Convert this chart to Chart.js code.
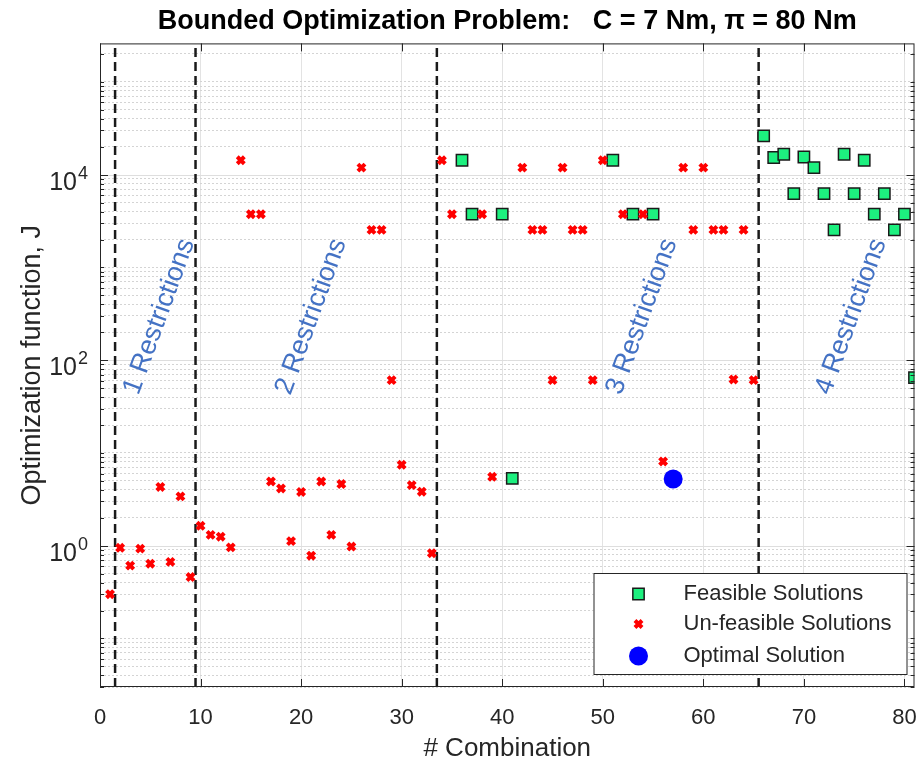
<!DOCTYPE html>
<html>
<head>
<meta charset="utf-8">
<script src="https://cdn.jsdelivr.net/npm/chart.js@4.4.1/dist/chart.umd.min.js"></script>
<style>
    html, body { margin: 0; padding: 0; background: #fff; }
</style>
</head>
<body>
<canvas id="grafico" width="924" height="764"></canvas>
<script>
// datos
const combFactibles = [36, 37, 40, 41, 51, 53, 55, 66, 67, 68, 69, 70, 71, 72, 73, 74, 75, 76, 77, 78, 79, 80, 81];
const valFactibles = [14300, 3750, 3750, 5.31, 14300, 3750, 3750, 26200, 15300, 16600, 6260, 15500, 11900, 6260, 2540, 16600, 6260, 14300, 3750, 6260, 2540, 3750, 65];

const combNoFactibles = [1, 2, 3, 4, 5, 6, 7, 8, 9, 10, 11, 12, 13, 14, 15, 16, 17, 18, 19, 20, 21, 22, 23, 24, 25,
    26, 27, 28, 29, 30, 31, 32, 33, 34, 35, 38, 39, 42, 43, 44, 45, 46, 47, 48, 49, 50, 52, 54, 56, 58, 59, 60, 61, 62, 63, 64, 65];
const valNoFactibles = [0.30, 0.95, 0.61, 0.93, 0.64, 4.3, 0.67, 3.4, 0.46, 1.64, 1.31, 1.25, 0.96, 14300, 3750, 3750, 4.93, 4.14, 1.12, 3.8, 0.78, 4.93, 1.31, 4.62, 0.98,
    11900, 2540, 2540, 61, 7.46, 4.5, 3.82, 0.83, 14300, 3750, 3750, 5.54, 11900, 2540, 2540, 61, 11900, 2540, 2540, 61, 14300, 3750, 3750, 8.1, 11900, 2540, 11900, 2540, 2540, 62, 2540, 61];

const combOptima = [57];
const valOptima = [5.23];

const limitesRestricciones = [1.5, 9.5, 33.5, 65.5];
const etiquetasRegion = ['1 Restrictions', '2 Restrictions', '3 Restrictions', '4 Restrictions'];
const centroRegionX = [5.9, 21.0, 53.9, 74.7];
const centroRegionY = 295;

const ticksX = [0, 10, 20, 30, 40, 50, 60, 70, 80];
const ticksYMayores = [1, 100, 10000];
const Y_MIN = 0.03, Y_MAX = 2.6e5;

const FUENTE = "'Liberation Sans', Arial, sans-serif";
const GRIS_TEXTO = '#262626';

function ticksLog() {
    const lista = [];
    for (let k = -2; k <= 5; k++) {
        for (let m = 1; m <= 9; m++) {
            const v = m * Math.pow(10, k);
            if (v >= Y_MIN && v <= Y_MAX) lista.push({ value: v });
        }
    }
    return lista;
}

function esMayor(v) {
    return ticksYMayores.some(t => Math.abs(v - t) / t < 1e-6);
}

const puntos = (xs, ys) => xs.map((x, i) => ({ x: x, y: ys[i] }));

const lineasLimite = limitesRestricciones.map(b => ({
    type: 'line',
    data: [{ x: b, y: Y_MIN }, { x: b, y: Y_MAX }],
    borderColor: '#1a1a1a',
    borderWidth: 2.5,
    borderDash: [9, 5],
    pointRadius: 0,
    showLine: true,
    fill: false,
    order: 4
}));

const seriesLeyenda = [
    { texto: 'Feasible Solutions', estilo: { pointStyle: 'rect', radius: 8, rotation: 0, borderWidth: 1.5 }, fondo: '#1DF07F', borde: '#1a1a1a' },
    { texto: 'Un-feasible Solutions', estilo: { pointStyle: 'crossRot', radius: 5, rotation: 0, borderWidth: 4 }, fondo: '#ff0000', borde: '#ff0000' },
    { texto: 'Optimal Solution', estilo: { pointStyle: 'circle', radius: 9.5, rotation: 0, borderWidth: 0 }, fondo: '#0000ff', borde: '#0000ff' }
];

const sinPadding = () => ({ left: 0, top: 0, right: 0, bottom: 0 });

const extras = {
    id: 'extras',
    beforeDatasetsDraw(chart) {
        const ctx = chart.ctx, a = chart.chartArea, y = chart.scales.y;
        ctx.save();
        ctx.strokeStyle = '#dedede';
        ctx.lineWidth = 1;
        ticksYMayores.forEach(v => {
            const py = Math.round(y.getPixelForValue(v)) + 0.5;
            ctx.beginPath();
            ctx.moveTo(a.left, py);
            ctx.lineTo(a.right, py);
            ctx.stroke();
        });
        ctx.restore();
    },
    afterDatasetsDraw(chart) {
        const ctx = chart.ctx, a = chart.chartArea, x = chart.scales.x, y = chart.scales.y;
        ctx.save();

        // textos de las regiones
        ctx.fillStyle = '#4472C4';
        ctx.font = '27px ' + FUENTE;
        ctx.textAlign = 'center';
        ctx.textBaseline = 'middle';
        etiquetasRegion.forEach((t, i) => {
            ctx.save();
            ctx.translate(x.getPixelForValue(centroRegionX[i]), y.getPixelForValue(centroRegionY));
            ctx.rotate(-70 * Math.PI / 180);
            ctx.fillText(t, 0, 0);
            ctx.restore();
        });

        // etiquetas del eje y con exponente
        ctx.fillStyle = GRIS_TEXTO;
        ctx.textBaseline = 'alphabetic';
        ticksYMayores.forEach(v => {
            const py = y.getPixelForValue(v);
            const exp = String(Math.round(Math.log10(v)));
            ctx.font = '25px ' + FUENTE;
            ctx.textAlign = 'right';
            ctx.fillText('10', a.left - 23, py + 15);
            ctx.font = '18px ' + FUENTE;
            ctx.textAlign = 'left';
            ctx.fillText(exp, a.left - 22, py + 4);
        });

        // marco y marcas interiores
        ctx.strokeStyle = GRIS_TEXTO;
        ctx.lineWidth = 1;
        ctx.strokeRect(a.left + 0.5, a.top + 0.5, a.right - a.left - 1, a.bottom - a.top - 1);
        ctx.beginPath();
        ticksX.forEach(v => {
            const px = Math.round(x.getPixelForValue(v)) + 0.5;
            ctx.moveTo(px, a.bottom); ctx.lineTo(px, a.bottom - 8);
            ctx.moveTo(px, a.top); ctx.lineTo(px, a.top + 8);
        });
        ticksLog().forEach(t => {
            const py = Math.round(y.getPixelForValue(t.value)) + 0.5;
            const largo = esMayor(t.value) ? 8 : 4;
            ctx.moveTo(a.left, py); ctx.lineTo(a.left + largo, py);
            ctx.moveTo(a.right, py); ctx.lineTo(a.right - largo, py);
        });
        ctx.stroke();

        // leyenda
        const w = 313, h = 101;
        const x0 = a.right - w - 8, y0 = a.bottom - h - 13;
        ctx.fillStyle = '#fff';
        ctx.fillRect(x0, y0, w, h);
        ctx.strokeStyle = '#262626';
        ctx.strokeRect(x0 + 0.5, y0 + 0.5, w, h);
        const filas = [21, 51, 83];
        ctx.font = '22px ' + FUENTE;
        ctx.textAlign = 'left';
        ctx.textBaseline = 'middle';
        seriesLeyenda.forEach((s, i) => {
            ctx.fillStyle = s.fondo;
            ctx.strokeStyle = s.borde;
            ctx.lineWidth = s.estilo.borderWidth;
            Chart.helpers.drawPoint(ctx, s.estilo, x0 + 45, y0 + filas[i]);
            ctx.fillStyle = GRIS_TEXTO;
            ctx.fillText(s.texto, x0 + 90, y0 + filas[i]);
        });
        ctx.restore();
    }
};

const config = {
    type: 'scatter',
    data: {
        datasets: [
            {
                label: 'Feasible Solutions',
                data: puntos(combFactibles, valFactibles),
                pointStyle: 'rect',
                pointRadius: 8,
                backgroundColor: '#1DF07F',
                borderColor: '#1a1a1a',
                borderWidth: 1.5,
                order: 3
            },
            {
                label: 'Un-feasible Solutions',
                data: puntos(combNoFactibles, valNoFactibles),
                pointStyle: 'crossRot',
                pointRadius: 5,
                backgroundColor: '#ff0000',
                borderColor: '#ff0000',
                borderWidth: 4,
                order: 2
            },
            {
                label: 'Optimal Solution',
                data: puntos(combOptima, valOptima),
                pointStyle: 'circle',
                pointRadius: 9.5,
                backgroundColor: '#0000ff',
                borderColor: '#0000ff',
                borderWidth: 0,
                order: 1
            }
        ].concat(lineasLimite)
    },
    options: {
        responsive: false,
        animation: false,
        layout: { padding: { top: 1, right: 6, left: 0, bottom: 0 } },
        plugins: {
            legend: { display: false },
            tooltip: { enabled: false },
            title: {
                display: true,
                fullSize: false,
                text: 'Bounded Optimization Problem:   C = 7 Nm, \u03C0 = 80 Nm',
                color: '#000',
                font: { family: FUENTE, size: 27, weight: 'bold' },
                padding: { top: 4, bottom: 6 }
            }
        },
        scales: {
            x: {
                type: 'linear',
                min: 0,
                max: 81,
                afterBuildTicks: s => { s.ticks = ticksX.map(v => ({ value: v })); },
                afterFit: s => { s.height = 77; s.getPadding = sinPadding; },
                ticks: {
                    autoSkip: false,
                    maxRotation: 0,
                    padding: 18,
                    color: GRIS_TEXTO,
                    font: { family: FUENTE, size: 22 }
                },
                grid: { color: '#e3e3e3', lineWidth: 1, drawTicks: false },
                border: { display: false },
                title: {
                    display: true,
                    text: '# Combination',
                    color: GRIS_TEXTO,
                    font: { family: FUENTE, size: 26 },
                    padding: { top: 0, bottom: 0 }
                }
            },
            y: {
                type: 'logarithmic',
                min: Y_MIN,
                max: Y_MAX,
                afterBuildTicks: s => { s.ticks = ticksLog(); },
                afterFit: s => { s.width = 100; s.getPadding = sinPadding; },
                ticks: { display: false },
                grid: {
                    color: c => esMayor(c.tick.value) ? 'rgba(0,0,0,0)' : '#d4d4d4',
                    lineWidth: 1,
                    drawTicks: false
                },
                border: { display: false, dash: [2, 2] },
                title: {
                    display: true,
                    text: 'Optimization function, J',
                    color: GRIS_TEXTO,
                    font: { family: FUENTE, size: 27 },
                    padding: { top: 16, bottom: 0 }
                }
            }
        }
    },
    plugins: [extras]
};

const grafico = new Chart(document.getElementById('grafico'), config);
</script>
</body>
</html>
